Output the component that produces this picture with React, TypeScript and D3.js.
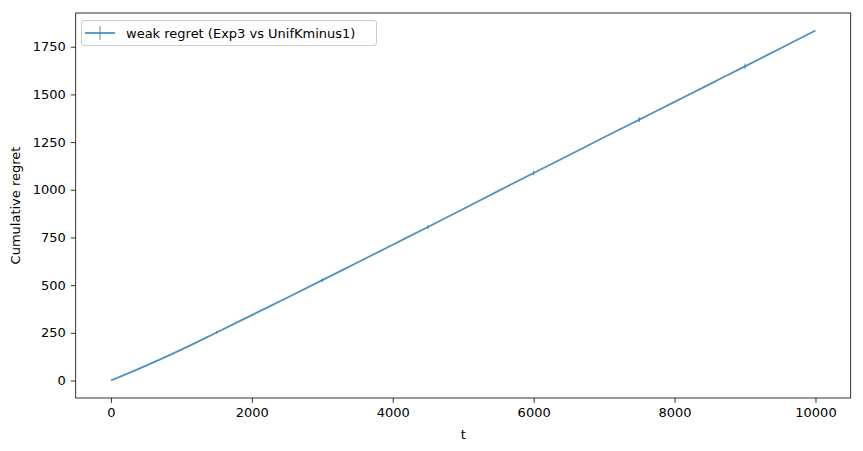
import { useEffect, useRef } from 'react'
import * as d3 from 'd3'

const steps = [0, 500, 1000, 1500, 2000, 2500, 3000, 3500, 4000, 4500, 5000, 5500, 6000, 6500, 7000, 7500, 8000, 8500, 9000, 9500, 10000]
const regret = [0, 78, 162, 252, 343, 434, 526, 619, 712, 805, 899, 994, 1088, 1181, 1275, 1368, 1461, 1554, 1647, 1741, 1835]
const errSteps = [0, 1500, 3000, 4500, 6000, 7500, 9000]
const errValues = [0, 252, 526, 805, 1088, 1368, 1647]
const errSize = [0, 7, 9, 11, 12, 13, 14]
const xTicks = [0, 2000, 4000, 6000, 8000, 10000]
const yTicks = [0, 250, 500, 750, 1000, 1250, 1500, 1750]
const seriesLabel = 'weak regret (Exp3 vs UnifKminus1)'

const App = () => {
  const svgRef = useRef(null)
  const width = 863
  const height = 451

  useEffect(() => {
    const left = 75.7
    const right = 850.7
    const top = 13
    const bottom = 398
    const color = '#1f77b4'
    const font = 'DejaVu Sans, sans-serif'

    const xScale = d3.scaleLinear([-500, 10500], [left, right])
    const yScale = d3.scaleLinear([-91.75, 1926.75], [bottom, top])

    const svgEl = d3.select(svgRef.current)
    svgEl.selectAll('*').remove()

    svgEl.append('rect').attr('width', width).attr('height', height).attr('fill', '#fff')

    // line
    const line = d3
      .line()
      .curve(d3.curveMonotoneX)
      .x((d) => xScale(d[0]))
      .y((d) => yScale(d[1]))
    svgEl
      .append('path')
      .datum(steps.map((s, i) => [s, regret[i]]))
      .attr('d', line)
      .attr('fill', 'none')
      .attr('stroke', color)
      .attr('stroke-opacity', 0.8)
      .attr('stroke-width', 1.8)

    // error bars
    svgEl
      .append('g')
      .selectAll('line')
      .data(errSteps)
      .join('line')
      .attr('x1', (d) => xScale(d))
      .attr('x2', (d) => xScale(d))
      .attr('y1', (d, i) => yScale(errValues[i] - errSize[i]))
      .attr('y2', (d, i) => yScale(errValues[i] + errSize[i]))
      .attr('stroke', color)
      .attr('stroke-opacity', 0.8)
      .attr('stroke-width', 1)

    // x axis
    const xAxis = d3.axisBottom(xScale).tickValues(xTicks).tickSize(4.9).tickPadding(4.9).tickFormat(d3.format('d'))
    svgEl
      .append('g')
      .attr('transform', `translate(0,${bottom})`)
      .call(xAxis)
      .call((g) => g.select('.domain').remove())
      .call((g) => g.selectAll('.tick line').attr('stroke', '#000').attr('stroke-width', 0.8))
      .call((g) =>
        g.selectAll('.tick text').attr('fill', '#000').style('font-family', font).style('font-size', '13px')
      )

    // y axis
    const yAxis = d3.axisLeft(yScale).tickValues(yTicks).tickSize(4.9).tickPadding(4.9).tickFormat(d3.format('d'))
    svgEl
      .append('g')
      .attr('transform', `translate(${left},0)`)
      .call(yAxis)
      .call((g) => g.select('.domain').remove())
      .call((g) => g.selectAll('.tick line').attr('stroke', '#000').attr('stroke-width', 0.8))
      .call((g) =>
        g.selectAll('.tick text').attr('fill', '#000').style('font-family', font).style('font-size', '13px')
      )

    // frame
    svgEl
      .append('rect')
      .attr('x', left)
      .attr('y', top)
      .attr('width', right - left)
      .attr('height', bottom - top)
      .attr('fill', 'none')
      .attr('stroke', '#000')
      .attr('stroke-width', 0.8)

    // axis labels
    svgEl
      .append('text')
      .attr('x', (left + right) / 2)
      .attr('y', 439)
      .attr('text-anchor', 'middle')
      .style('font-family', font)
      .style('font-size', '13px')
      .text('t')
    svgEl
      .append('text')
      .attr('transform', `translate(20,${(top + bottom) / 2}) rotate(-90)`)
      .attr('text-anchor', 'middle')
      .style('font-family', font)
      .style('font-size', '13px')
      .text('Cumulative regret')

    // legend
    const legend = svgEl.append('g')
    legend
      .append('rect')
      .attr('x', 81.5)
      .attr('y', 20.5)
      .attr('width', 295)
      .attr('height', 25)
      .attr('rx', 2.5)
      .attr('fill', '#fff')
      .attr('fill-opacity', 0.8)
      .attr('stroke', '#ccc')
      .attr('stroke-width', 1)
    legend
      .append('line')
      .attr('x1', 85)
      .attr('x2', 115)
      .attr('y1', 33)
      .attr('y2', 33)
      .attr('stroke', color)
      .attr('stroke-opacity', 0.8)
      .attr('stroke-width', 1.8)
    legend
      .append('line')
      .attr('x1', 100)
      .attr('x2', 100)
      .attr('y1', 26)
      .attr('y2', 40)
      .attr('stroke', color)
      .attr('stroke-opacity', 0.8)
      .attr('stroke-width', 1)
    legend
      .append('text')
      .attr('x', 126)
      .attr('y', 37.5)
      .style('font-family', font)
      .style('font-size', '13px')
      .text(seriesLabel)
  }, [])

  return (
    <svg
      ref={svgRef}
      width={width}
      height={height}
      style={{ position: 'absolute', left: 0, top: 0 }}
    />
  )
}

export default App
